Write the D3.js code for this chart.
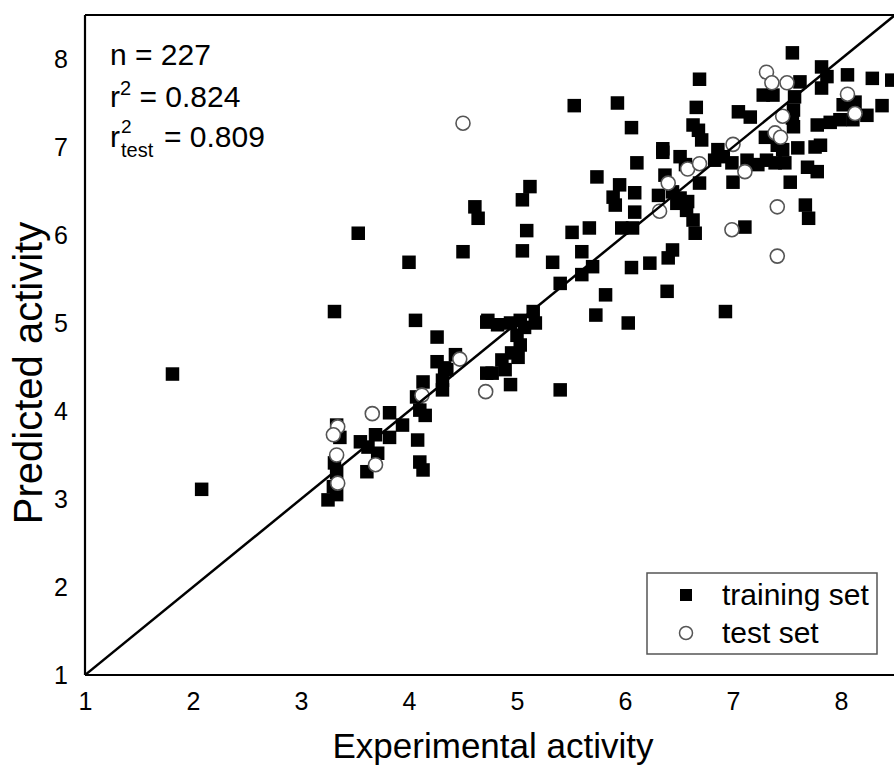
<!DOCTYPE html>
<html>
<head>
<meta charset="utf-8">
<script src="https://cdn.jsdelivr.net/npm/d3@7"></script>
<style>
  body { margin: 0; background: #fff; }
  svg { display: block; font-family: "Liberation Sans", Arial, sans-serif; }
</style>
</head>
<body>
<div id="chart"></div>
<script>
// training set: experimental vs predicted activity
var trainExp = [1.81, 2.08, 3.31, 3.53, 4.00, 4.06, 4.50, 4.61, 4.64, 4.26, 4.72, 4.43, 4.26, 4.35, 4.31, 4.31,
  4.13, 4.07, 4.15, 4.10, 3.82, 3.94, 3.82, 3.69, 3.55, 3.62, 3.71, 3.61, 4.08, 4.10, 4.13, 4.72,
  3.33, 3.36, 3.31, 3.33, 3.30, 3.33, 3.25, 5.12, 5.05, 5.09, 5.05, 5.74, 5.95, 5.89, 5.91, 6.09,
  6.09, 5.51, 5.67, 5.97, 5.60, 5.33, 5.70, 5.60, 5.40, 6.06, 5.82, 5.73, 6.03, 5.40, 4.73, 4.82,
  4.94, 5.03, 5.15, 5.17, 5.07, 5.00, 5.03, 4.95, 5.01, 4.86, 4.89, 4.77, 4.94, 4.33, 6.11, 6.35,
  6.51, 6.56, 6.37, 6.31, 6.07, 6.44, 6.51, 6.58, 6.57, 6.63, 6.65, 6.48, 6.69, 6.91, 6.99, 7.00,
  7.13, 7.11, 6.44, 6.40, 6.23, 6.39, 6.93, 6.69, 5.93, 6.66, 7.05, 7.16, 6.06, 6.63, 6.68, 6.71,
  6.35, 6.86, 6.83, 5.53, 7.55, 7.82, 7.87, 7.82, 8.06, 8.29, 8.47, 7.28, 7.37, 7.62, 7.57, 7.56,
  7.55, 7.56, 8.02, 8.13, 8.38, 8.24, 8.11, 7.78, 7.90, 7.99, 7.30, 7.41, 7.46, 7.60, 7.76, 7.81,
  7.23, 7.31, 7.39, 7.48, 7.69, 7.78, 7.53, 7.67, 7.70];
var trainPred = [4.42, 3.11, 5.13, 6.02, 5.69, 5.03, 5.81, 6.32, 6.19, 4.84, 5.01, 4.64, 4.56, 4.47, 4.35, 4.24,
  4.33, 4.16, 3.95, 4.01, 3.98, 3.84, 3.70, 3.73, 3.65, 3.59, 3.52, 3.31, 3.67, 3.42, 3.33, 4.43,
  3.84, 3.70, 3.41, 3.30, 3.14, 3.05, 2.99, 6.55, 6.40, 6.05, 5.82, 6.66, 6.57, 6.43, 6.34, 6.48,
  6.26, 6.03, 6.08, 6.08, 5.81, 5.69, 5.64, 5.55, 5.45, 5.63, 5.32, 5.09, 5.00, 4.24, 5.03, 4.98,
  5.00, 5.03, 5.13, 5.00, 4.95, 4.86, 4.75, 4.66, 4.61, 4.58, 4.47, 4.43, 4.30, 4.49, 6.82, 6.94,
  6.89, 6.80, 6.68, 6.45, 6.08, 6.49, 6.42, 6.38, 6.28, 6.17, 6.02, 6.36, 6.59, 6.89, 6.82, 6.60,
  6.85, 6.09, 5.83, 5.74, 5.68, 5.36, 5.13, 7.77, 7.50, 7.45, 7.40, 7.34, 7.22, 7.25, 7.19, 7.08,
  6.98, 6.97, 6.85, 7.47, 8.07, 7.91, 7.80, 7.67, 7.82, 7.78, 7.76, 7.59, 7.59, 7.74, 7.57, 7.42,
  7.33, 7.23, 7.48, 7.51, 7.47, 7.36, 7.31, 7.25, 7.28, 7.31, 7.11, 7.02, 6.97, 6.99, 7.00, 7.02,
  6.80, 6.85, 6.82, 6.82, 6.77, 6.72, 6.60, 6.34, 6.19];

// test set
var testExp = [4.50, 3.34, 3.30, 3.33, 3.34, 3.66, 3.69, 4.12, 4.47, 4.71, 6.32, 6.40, 6.58, 6.69,
  7.00, 7.11, 6.99, 7.41, 7.41, 7.31, 7.36, 7.50, 8.06, 8.13, 7.46, 7.39, 7.44];
var testPred = [7.27, 3.82, 3.73, 3.50, 3.18, 3.97, 3.39, 4.18, 4.59, 4.22, 6.27, 6.59, 6.75, 6.81,
  7.03, 6.72, 6.06, 6.32, 5.76, 7.85, 7.73, 7.73, 7.60, 7.38, 7.35, 7.16, 7.11];

var tickValues = [1, 2, 3, 4, 5, 6, 7, 8];
var axisDomain = [1, 8.5];
var statsN = "n = 227";
var statsR2 = "0.824";
var statsR2test = "0.809";
var legendLabels = ["training set", "test set"];

var svgWidth = 894;
var svgHeight = 771;
var margin = {top: 15, right: -1, bottom: 96, left: 85};
var width = svgWidth - margin.left - margin.right;
var height = svgHeight - margin.top - margin.bottom;

var svg = d3.select("#chart")
  .append("svg")
  .attr("width", svgWidth)
  .attr("height", svgHeight);

var g = svg.append("g")
  .attr("transform", `translate(${margin.left}, ${margin.top})`);

var x = d3.scaleLinear().domain(axisDomain).range([0, width]);
var y = d3.scaleLinear().domain(axisDomain).range([height, 0]);

// tick labels only, no tick marks
var xAxis = g.append("g")
  .attr("transform", `translate(0, ${height})`)
  .call(d3.axisBottom(x).tickValues(tickValues).tickSize(0).tickPadding(17).tickFormat(d3.format("d")));
var yAxis = g.append("g")
  .call(d3.axisLeft(y).tickValues(tickValues).tickSize(0).tickPadding(17).tickFormat(d3.format("d")));

[xAxis, yAxis].forEach(function(a) {
  a.select(".domain").remove();
  a.selectAll("text")
    .attr("font-family", "Liberation Sans, Arial, sans-serif")
    .attr("font-size", "25px")
    .attr("fill", "#000");
});

// frame: left, top and bottom edges
var frame = g.append("g")
  .attr("stroke", "#000")
  .attr("stroke-width", 2.2)
  .attr("fill", "none");
frame.append("line").attr("x1", 0).attr("x2", 0).attr("y1", 0).attr("y2", height);
frame.append("line").attr("x1", 0).attr("x2", width).attr("y1", 0).attr("y2", 0);
frame.append("line").attr("x1", 0).attr("x2", width).attr("y1", height).attr("y2", height);

g.append("clipPath").attr("id", "plot-clip")
  .append("rect").attr("width", width).attr("height", height);

var plot = g.append("g").attr("clip-path", "url(#plot-clip)");

var sq = 13.5;
plot.append("g")
  .selectAll("rect")
  .data(trainExp)
  .enter()
  .append("rect")
  .attr("x", (d, i) => x(d) - sq / 2)
  .attr("y", (d, i) => y(trainPred[i]) - sq / 2)
  .attr("width", sq)
  .attr("height", sq)
  .attr("fill", "#000");

plot.append("g")
  .selectAll("circle")
  .data(testExp)
  .enter()
  .append("circle")
  .attr("cx", d => x(d))
  .attr("cy", (d, i) => y(testPred[i]))
  .attr("r", 7)
  .attr("fill", "#fff")
  .attr("stroke", "#555")
  .attr("stroke-width", 1.6);

// line of identity
var line = d3.line().x(d => x(d)).y(d => y(d));
plot.append("path")
  .datum(axisDomain)
  .attr("d", line)
  .attr("fill", "none")
  .attr("stroke", "#000")
  .attr("stroke-width", 2.5);

// statistics in the upper left corner
var stats = g.append("g")
  .attr("font-size", "30px")
  .attr("fill", "#000");
stats.append("text").attr("x", 25).attr("y", 50).text(statsN);
var r2 = stats.append("text").attr("x", 25).attr("y", 92);
r2.append("tspan").text("r");
r2.append("tspan").attr("font-size", "20px").attr("dy", -12).text("2");
r2.append("tspan").attr("dy", 12).text(" = " + statsR2);

stats.append("text").attr("x", 25).attr("y", 132).text("r");
stats.append("text").attr("x", 36).attr("y", 118).attr("font-size", "19px").text("2");
stats.append("text").attr("x", 36).attr("y", 142).attr("font-size", "20px").text("test");
stats.append("text").attr("x", 79).attr("y", 132).text("= " + statsR2test);

// axis titles
svg.append("text")
  .attr("x", 493)
  .attr("y", 758)
  .attr("text-anchor", "middle")
  .attr("font-size", "35px")
  .text("Experimental activity");

svg.append("text")
  .attr("transform", "rotate(-90)")
  .attr("x", -373)
  .attr("y", 42)
  .attr("text-anchor", "middle")
  .attr("font-size", "40px")
  .text("Predicted activity");

// legend
var legend = svg.append("g").attr("transform", "translate(647, 573)");
legend.append("rect")
  .attr("width", 230)
  .attr("height", 81)
  .attr("fill", "#fff")
  .attr("stroke", "#555")
  .attr("stroke-width", 1.5);
legend.append("rect")
  .attr("x", 33).attr("y", 16)
  .attr("width", 12).attr("height", 12)
  .attr("fill", "#000");
legend.append("circle")
  .attr("cx", 39).attr("cy", 60)
  .attr("r", 6.5)
  .attr("fill", "#fff")
  .attr("stroke", "#555")
  .attr("stroke-width", 1.5);
legend.selectAll("text.lbl")
  .data(legendLabels)
  .enter()
  .append("text")
  .attr("class", "lbl")
  .attr("x", 75)
  .attr("y", (d, i) => 32 + i * 38)
  .attr("font-size", "30px")
  .text(d => d);
</script>
</body>
</html>
